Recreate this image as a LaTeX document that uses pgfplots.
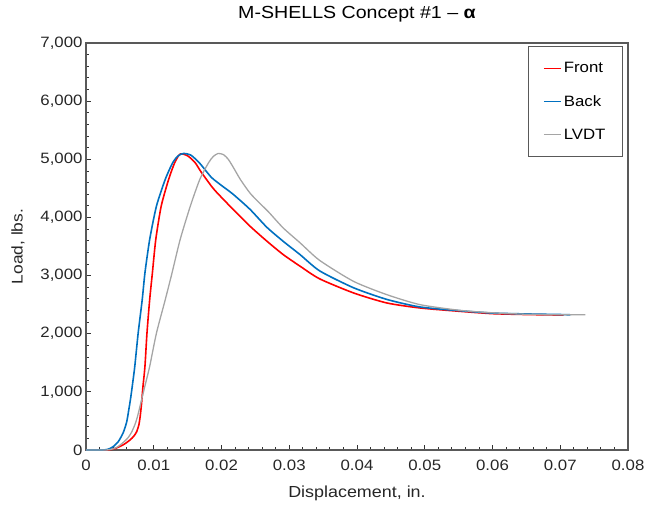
\documentclass[border=0pt]{standalone}
\usepackage{fontspec}
\setmainfont{Liberation Sans}[FakeStretch=1.12]
\usepackage{pgfplots}
\pgfplotsset{compat=1.18}
\definecolor{cfront}{RGB}{255,0,0}
\definecolor{cback}{RGB}{0,112,192}
\definecolor{clvdt}{RGB}{165,165,165}
\definecolor{frame}{RGB}{89,89,89}
\begin{document}
\begin{tikzpicture}
\useasboundingbox (-86pt,-57pt) rectangle (562pt,450pt);
\begin{axis}[
  at={(0pt,0pt)}, anchor=south west,
  scale only axis, width=542pt, height=407pt,
  xmin=0, xmax=0.08, ymin=0, ymax=7000,
  scaled x ticks=false, scaled y ticks=false,
  xtick={0,0.01,0.02,0.03,0.04,0.05,0.06,0.07,0.08},
  xticklabels={0,0.01,0.02,0.03,0.04,0.05,0.06,0.07,0.08},
  ytick={0,1000,2000,3000,4000,5000,6000,7000},
  yticklabels={0,{1,000},{2,000},{3,000},{4,000},{5,000},{6,000},{7,000}},
  minor x tick num=4, minor y tick num=4,
  tick align=inside, tick pos=left,
  major tick length=5pt, minor tick length=3pt,
  every tick/.style={black!80, line width=0.8pt},
  axis line style={frame, line width=1.1pt},
  /pgf/number format/assume math mode=true,
  ticklabel style={font=\fontsize{15}{18}\selectfont, text=black!85},
  xticklabel style={yshift=-6pt},
  title={M-SHELLS Concept \#1 – \textbf{α}},
  title style={at={(axis description cs:0.5,1.056)}, anchor=center, font=\fontsize{17.5}{20}\selectfont},
  xlabel={Displacement, in.},
  xlabel style={at={(axis description cs:0.5,-0.1057)}, anchor=center, font=\fontsize{16}{19}\selectfont, text=black!85},
  ylabel={Load, lbs.},
  ylabel style={at={(axis description cs:-0.1255,0.5)}, anchor=center, font=\fontsize{15.5}{18}\selectfont, text=black!85},
  legend style={at={(axis description cs:0.9908,0.9926)}, anchor=north east,
    draw=frame, line width=1pt, inner xsep=15pt, inner ysep=14pt, row sep=17pt,
    font=\fontsize{15}{18}\selectfont},
  legend cell align=left,
]
\addplot[cfront, line width=1.6pt, smooth, tension=0.4] coordinates {
(0,0) (0.0030,0) (0.0040,15) (0.0047,45) (0.0055,90) (0.0062,145) (0.0068,205)
(0.0072,260) (0.0075,320) (0.0078,430) (0.0080,580) (0.0082,800) (0.0084,1080) (0.0087,1437) (0.0090,2011)
(0.0094,2586) (0.0098,3046) (0.0103,3621) (0.0111,4195) (0.0122,4655) (0.0131,4943)
(0.0139,5090) (0.0150,5060) (0.0161,4943) (0.0170,4780) (0.0185,4540) (0.0193,4430)
(0.0217,4140) (0.0242,3850) (0.0267,3592) (0.0291,3362) (0.0316,3161) (0.0345,2943)
(0.0395,2701) (0.0444,2529) (0.0493,2443) (0.0552,2385) (0.0600,2345) (0.0650,2330)
(0.0705,2320)
};
\addplot[cback, line width=1.6pt, smooth, tension=0.4] coordinates {
(0,0) (0.0025,0) (0.0033,15) (0.0040,57) (0.0048,150) (0.0055,300) (0.0060,480) (0.0063,680)
(0.0066,900) (0.0069,1160) (0.0072,1437) (0.0077,2011) (0.0083,2586) (0.0087,3046) (0.0094,3621)
(0.0104,4195) (0.0117,4655) (0.0128,4943) (0.0136,5060) (0.0144,5100) (0.0155,5070)
(0.0168,4930) (0.0185,4690) (0.0200,4550) (0.0217,4400) (0.0242,4140) (0.0267,3830)
(0.0291,3590) (0.0316,3360) (0.0345,3080) (0.0395,2790) (0.0444,2590) (0.0493,2460)
(0.0552,2395) (0.0600,2355) (0.0650,2340) (0.0700,2330) (0.0715,2325)
};
\addplot[clvdt, line width=1.3pt, smooth, tension=0.4] coordinates {
(0,0) (0.0030,0) (0.0040,20) (0.0047,57) (0.0055,130) (0.0062,210) (0.0067,300)
(0.0072,430) (0.0076,575) (0.0082,862) (0.0088,1150) (0.0094,1437) (0.0104,2011) (0.0117,2586) (0.0127,3046)
(0.0139,3621) (0.0154,4195) (0.0168,4655) (0.0181,4943) (0.0188,5050) (0.0195,5100)
(0.0203,5080) (0.0210,5000) (0.0217,4870) (0.0228,4650) (0.0242,4420) (0.0255,4260)
(0.0269,4100) (0.0291,3820) (0.0316,3563) (0.0345,3260) (0.0395,2900) (0.0444,2672)
(0.0493,2500) (0.0552,2402) (0.0600,2360) (0.0650,2335) (0.0700,2325) (0.0737,2325)
};
\legend{}
\addlegendimage{legend image code/.code={\draw[cfront, line width=1.8pt] (0pt,0pt) -- (18pt,0pt);}}
\addlegendentry{Front}
\addlegendimage{legend image code/.code={\draw[cback, line width=1.8pt] (0pt,0pt) -- (18pt,0pt);}}
\addlegendentry{Back}
\addlegendimage{legend image code/.code={\draw[clvdt, line width=1.4pt] (0pt,0pt) -- (18pt,0pt);}}
\addlegendentry{LVDT}
\end{axis}
\end{tikzpicture}
\end{document}
